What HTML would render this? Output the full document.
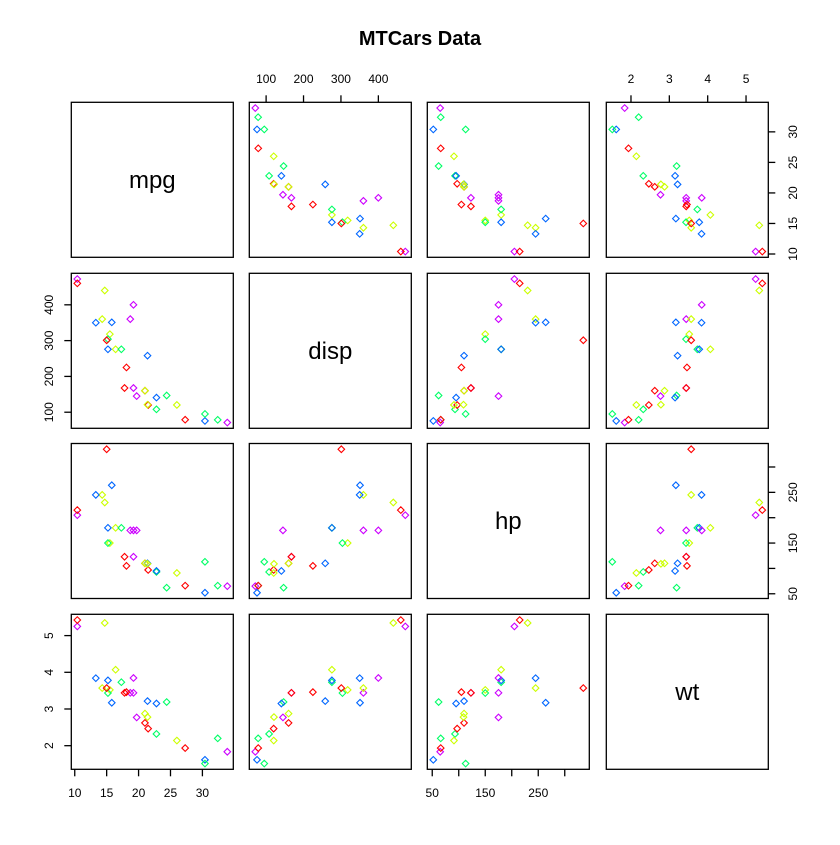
<!DOCTYPE html>
<html><head><meta charset="utf-8"><style>
body{margin:0;background:#fff}
svg text{font-family:"Liberation Sans",Arial,sans-serif}
</style></head><body>
<svg id="c" width="840" height="840" viewBox="0 0 840 840">
<text x="420" y="45" text-anchor="middle" font-size="20" font-weight="bold">MTCars Data</text>
</svg>
<script>
const varNames = ["mpg","disp","hp","wt"];
const mpg = [21,21,22.8,21.4,18.7,18.1,14.3,24.4,22.8,19.2,17.8,16.4,17.3,15.2,10.4,10.4,14.7,32.4,30.4,33.9,21.5,15.5,15.2,13.3,19.2,27.3,26,30.4,15.8,19.7,15,21.4];
const disp = [160,160,108,258,360,225,360,146.7,140.8,167.6,167.6,275.8,275.8,275.8,472,460,440,78.7,75.7,71.1,120.1,318,304,350,400,79,120.3,95.1,351,145,301,121];
const hp = [110,110,93,110,175,105,245,62,95,123,123,180,180,180,205,215,230,66,52,65,97,150,150,245,175,66,91,113,264,175,335,109];
const wt = [2.62,2.875,2.32,3.215,3.44,3.46,3.57,3.19,3.15,3.44,3.44,4.07,3.73,3.78,5.25,5.424,5.345,2.2,1.615,1.835,2.465,3.52,3.435,3.84,3.845,1.935,2.14,1.513,3.17,2.77,3.57,2.78];
const tickMpg = [10,15,20,25,30];
const tickDisp = [100,200,300,400];
const tickHp = [50,100,150,200,250,300];
const labelHp = [50,150,250];
const tickWt = [2,3,4,5];
const palette = ["#FF0000","#CCFF00","#00FF66","#0066FF","#CC00FF"];

const cols=[mpg,disp,hp,wt];
const ticks=[tickMpg,tickDisp,tickHp,tickWt];
const labels=[tickMpg,tickDisp,labelHp,tickWt];
const X0=[71.3,249.3,427.3,606.3], W=162;
const Y0=[102.3,273.3,443.5,614.3], H=155;
const svg=document.getElementById('c');
const NS="http://www.w3.org/2000/svg";
function mk(t,a){const e=document.createElementNS(NS,t);for(const k in a)e.setAttribute(k,a[k]);svg.appendChild(e);return e;}
function rng(v){const mn=Math.min(...v),mx=Math.max(...v),d=(mx-mn)*0.04;return [mn-d,mx+d];}
function sx(j,v){const r=rng(cols[j]);return X0[j]+(v-r[0])/(r[1]-r[0])*W;}
function sy(i,v){const r=rng(cols[i]);return Y0[i]+H-(v-r[0])/(r[1]-r[0])*H;}

for(let i=0;i<4;i++)for(let j=0;j<4;j++){
  const p=mk('rect',{x:X0[j],y:Y0[i],width:W,height:H,fill:'none',stroke:'#000','stroke-width':1.3});
  
  
  if(i===j){
    const t=mk('text',{x:X0[j]+W/2,y:Y0[i]+H/2+8,'text-anchor':'middle','font-size':24});
    t.textContent=varNames[i];
    
    
    continue;
  }
  const xs=cols[j], ys=cols[i];
  for(let k=0;k<xs.length;k++){
    const cx=sx(j,xs[k]), cy=sy(i,ys[k]);
    const d=mk('path',{d:`M${cx-3.3},${cy}L${cx},${cy-3.3}L${cx+3.3},${cy}L${cx},${cy+3.3}Z`,fill:'none',stroke:palette[k%5],'stroke-width':1.1});
    
    
  }
}
function line(x1,y1,x2,y2){return mk('line',{x1,y1,x2,y2,stroke:'#000','stroke-width':1.3});}
function txt(x,y,s,rot){const t=mk('text',{x,y,'font-size':12,'text-anchor':'middle','dominant-baseline':'central'});if(rot)t.setAttribute('transform',`rotate(-90 ${x} ${y})`);t.textContent=s;return t;}
for(let j=0;j<4;j++){
  const top=(j%2===1);
  const yb=top?Y0[0]:Y0[3]+H, dir=top?-1:1;
  const tk=ticks[j];
  tk.forEach(v=>{const l=line(sx(j,v),yb,sx(j,v),yb+dir*7);});
  labels[j].forEach(v=>txt(sx(j,v),top?79:793,String(v),false));
}
for(let i=0;i<4;i++){
  const left=(i%2===1);
  const xb=left?X0[0]:X0[3]+W, dir=left?-1:1;
  const tk=ticks[i];
  tk.forEach(v=>{const l=line(xb,sy(i,v),xb+dir*7,sy(i,v));});
  labels[i].forEach(v=>txt(left?49:793,sy(i,v),String(v),true));
}
</script>
</body></html>
